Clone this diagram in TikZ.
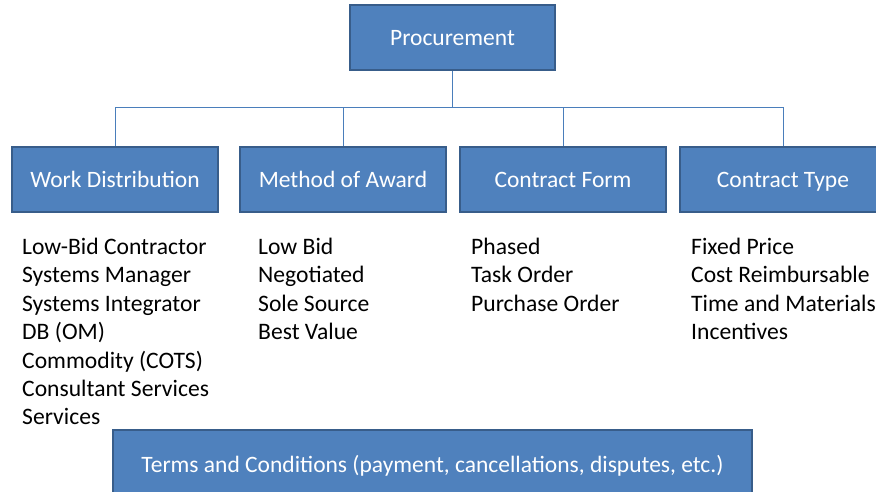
\documentclass[tikz,border=0pt]{standalone}
\usepackage{fontspec}
\setmainfont{Carlito}
\usepackage{tikz}
\usetikzlibrary{positioning,calc}
\definecolor{boxblue}{RGB}{79,129,189}
\definecolor{boxedge}{RGB}{56,93,138}
\definecolor{linkblue}{RGB}{74,126,187}
\tikzset{
  blk/.style={draw=boxedge,fill=boxblue,line width=2pt,text=white,align=center,
              inner sep=2pt,font=\fontsize{23.5}{28}\selectfont,
              text height=18pt,text depth=1pt,
              minimum width=206pt,minimum height=65pt},
  conn/.style={draw=linkblue,line width=1pt},
  lst/.style={anchor=north west,align=left,inner sep=0pt,
              font=\fontsize{23.6}{28.4}\selectfont},
}
\begin{document}
\begin{tikzpicture}[x=1pt,y=-1pt]

  \useasboundingbox (0,0) rectangle (876,492);

  % --- top ------------------------------------------------------------
  \node[blk,minimum width=205pt] (proc) at (452.5,37.5) {Procurement};
  \coordinate (bar) at (452.5,108);

  % --- second row -----------------------------------------------------
  \node[blk] (wd)  at (115,179.5) {Work Distribution};
  \node[blk] (moa) at (343,179.5) {Method of Award};
  \node[blk] (cf)  at (563,179.5) {Contract Form};
  \node[blk] (ct)  at (783,179.5) {Contract Type};

  \draw[conn] (proc.south) -- (bar);
  \foreach \c in {wd,moa,cf,ct} \draw[conn] (bar) -| (\c.north);

  % --- lists ----------------------------------------------------------
  \node[lst] (wdl) at (22,238)
        {Low-Bid Contractor\\Systems Manager\\Systems Integrator\\DB (OM)
         \\Commodity (COTS)\\Consultant Services\\Services};
  \node[lst] (moal) at (258,238) {Low Bid\\Negotiated\\Sole Source\\Best Value};
  \node[lst] (cfl)  at (471,238) {Phased\\Task Order\\Purchase Order};
  \node[lst] (ctl)  at (691,238)
        {Fixed Price\\Cost Reimbursable\\Time and Materials\\Incentives};

  % --- bottom ---------------------------------------------------------
  \node[blk,minimum width=639pt,minimum height=68pt] (tc) at (432.5,464)
        {Terms and Conditions (payment, cancellations, disputes, etc.)};

\end{tikzpicture}
\end{document}
